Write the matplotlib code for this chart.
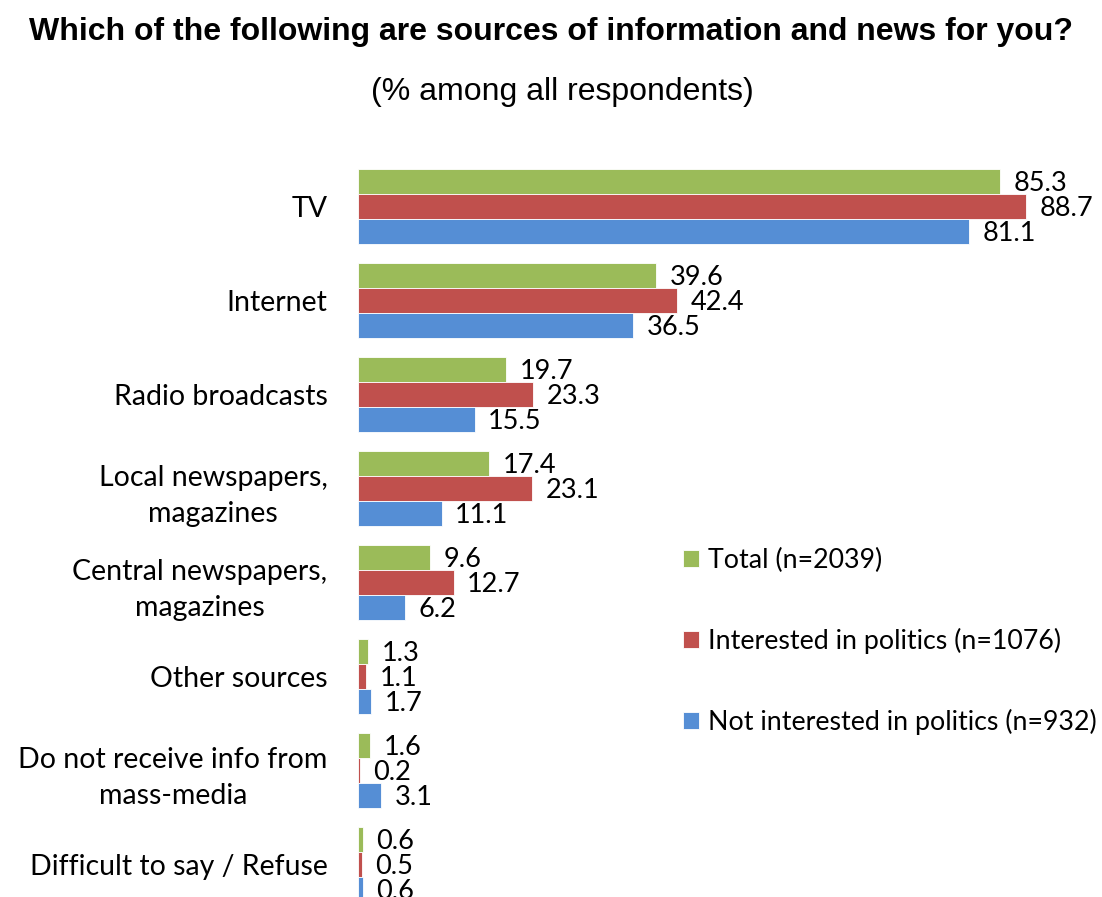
import matplotlib.pyplot as plt
import numpy as np

categories = ['TV', 'Internet', 'Radio broadcasts', 'Local newspapers,\nmagazines',
              'Central newspapers,\nmagazines', 'Other sources',
              'Do not receive info from\nmass-media', 'Difficult to say / Refuse']
total = [85.3, 39.6, 19.7, 17.4, 9.6, 1.3, 1.6, 0.6]
interested = [88.7, 42.4, 23.3, 23.1, 12.7, 1.1, 0.2, 0.5]
not_interested = [81.1, 36.5, 15.5, 11.1, 6.2, 1.7, 3.1, 0.6]

series = [
    ('Total (n=2039)', total, '#9bbb59'),
    ('Interested in politics (n=1076)', interested, '#c0504d'),
    ('Not interested in politics (n=932)', not_interested, '#558ed5'),
]

W, H = 1102, 897
fig = plt.figure(figsize=(W / 100, H / 100), dpi=100)
ax = fig.add_axes([358 / W, 0, 1 - 358 / W, (897 - 150) / H])

font = 'Lato'
y = np.arange(len(categories))
h = 0.266
for k, (name, vals, col) in enumerate(series):
    pos = y + (k - 1) * h
    ax.barh(pos, vals, height=h, color=col, label=name,
            edgecolor='white', linewidth=0.6)
    for p, v in zip(pos, vals):
        ax.text(v + 1.8, p + 0.03, f'{v:.1f}', va='center', ha='left',
                fontsize=19.5, family=font)

ax.set_ylim(7.35, -0.596)
ax.set_xlim(0, 98.8)
ax.set_yticks(y)
ax.set_yticklabels(categories, fontsize=20.5, family=font, linespacing=1.5,
                   ha='right', multialignment='center')
ax.tick_params(axis='y', length=0, pad=22)
ax.set_xticks([])
for s in ax.spines.values():
    s.set_visible(False)

leg = fig.legend(loc='upper left', bbox_to_anchor=(672 / W, 1 - 537 / H),
                 frameon=False, prop={'family': font, 'size': 19.3},
                 handlelength=0.6, handleheight=0.6, handletextpad=0.35,
                 labelspacing=2.05, borderaxespad=0)

fig.text(0.5, 1 - 32 / H, 'Which of the following are sources of information and news for you?',
         ha='center', va='center', fontsize=23, fontweight='bold',
         family='Liberation Sans')
fig.text(0.51, 1 - 92 / H, '(% among all respondents)', ha='center', va='center',
         fontsize=23, family='Liberation Sans')

fig.savefig('out.png', dpi=100)
